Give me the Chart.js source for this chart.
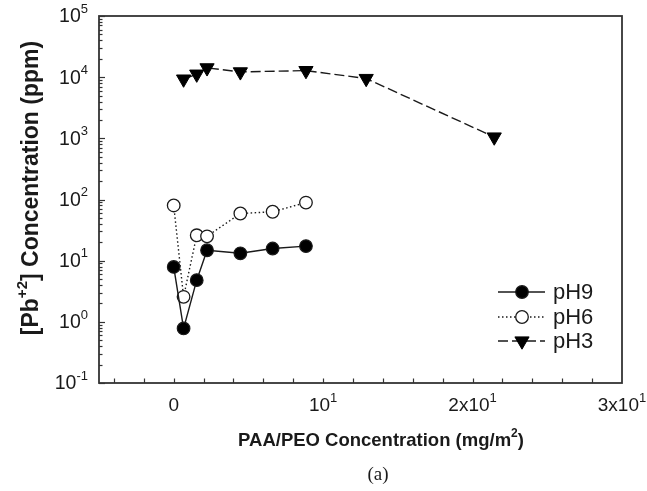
<!DOCTYPE html>
<html>
<head>
<meta charset="utf-8">
<script src="https://cdn.jsdelivr.net/npm/chart.js@4.4.1/dist/chart.umd.min.js"></script>
<style>
html,body{margin:0;padding:0;background:#fff;}
canvas{display:block;}
</style>
</head>
<body>
<canvas id="c" width="647" height="491"></canvas>
<script>
// ---- data ----
const xPH9 = [0, 0.66, 1.54, 2.23, 4.46, 6.62, 8.85];
const yPH9 = [7.9, 0.78, 4.8, 14.8, 13.2, 15.8, 17.3];
const xPH6 = [0, 0.66, 1.54, 2.23, 4.46, 6.62, 8.85];
const yPH6 = [80, 2.56, 26, 25, 59, 63, 89];
const xPH3 = [0.66, 1.54, 2.23, 4.46, 8.85, 12.88, 21.45];
const yPH3 = [9300, 11200, 14200, 12200, 12800, 9500, 1050];
const seriesNames = ['pH9', 'pH6', 'pH3'];

const xTickValues = [0, 10, 20, 30];
const xTickLabels = ['0', '10^{1}', '2x10^{1}', '3x10^{1}'];
const xMinorStep = 2;
const yTickValues = [0.1, 1, 10, 100, 1000, 10000, 100000];
const yTickLabels = ['10^{-1}', '10^{0}', '10^{1}', '10^{2}', '10^{3}', '10^{4}', '10^{5}'];
const xTitle = 'PAA/PEO Concentration (mg/m^{2})';
const yTitle = '[Pb^{+2}] Concentration (ppm)';
const caption = '(a)';

const INK = '#1a1a1a';
const FONT = '"Liberation Sans", Arial, sans-serif';

function toPts(xs, ys){ return xs.map((x,i)=>({x:x, y:ys[i]})); }

function parseRich(s){
  const segs=[]; const re=/\^\{([^}]*)\}/g; let last=0, m;
  while((m=re.exec(s))){ if(m.index>last) segs.push({t:s.slice(last,m.index),sup:false}); segs.push({t:m[1],sup:true}); last=re.lastIndex; }
  if(last<s.length) segs.push({t:s.slice(last),sup:false});
  return segs;
}
function supSize(size){ return Math.round(size*0.66); }
function richWidth(ctx, segs, size, weight){
  let w=0;
  segs.forEach(sg=>{ ctx.font = weight+' '+(sg.sup?supSize(size):size)+'px '+FONT; w+=ctx.measureText(sg.t).width; });
  return w;
}
function drawRich(ctx, s, x, y, align, size, weight){
  const segs=parseRich(s);
  const w=richWidth(ctx,segs,size,weight);
  let cx = align==='right'? x-w : align==='center'? x-w/2 : x;
  ctx.textBaseline='middle'; ctx.textAlign='left'; ctx.fillStyle=INK;
  segs.forEach(sg=>{
    const fs = sg.sup?supSize(size):size;
    ctx.font = weight+' '+fs+'px '+FONT;
    ctx.fillText(sg.t, cx, sg.sup? y-size*0.4 : y);
    cx += ctx.measureText(sg.t).width;
  });
}

const axesPlugin = {
  id:'axesPlugin',
  afterDraw(chart){
    const ctx=chart.ctx, a=chart.chartArea, xs=chart.scales.x, ys=chart.scales.y;
    ctx.save();
    // frame
    ctx.strokeStyle='#333'; ctx.lineWidth=1.8;
    ctx.strokeRect(a.left, a.top, a.right-a.left, a.bottom-a.top);
    // x ticks (inward)
    ctx.lineWidth=1.2; ctx.strokeStyle='#333';
    for(let v=xs.min+1; v<xs.max; v+=xMinorStep){
      const px=Math.round(xs.getPixelForValue(v))+0.5;
      ctx.beginPath(); ctx.moveTo(px,a.bottom); ctx.lineTo(px,a.bottom-4.5); ctx.stroke();
    }
    // y ticks (inward, major + minor)
    yTickValues.forEach((v,i)=>{
      const py=Math.round(ys.getPixelForValue(v))+0.5;
      ctx.beginPath(); ctx.moveTo(a.left,py); ctx.lineTo(a.left+6,py); ctx.stroke();
      if(i<yTickValues.length-1){
        for(let k=2;k<=9;k++){
          const pm=Math.round(ys.getPixelForValue(v*k))+0.5;
          ctx.beginPath(); ctx.moveTo(a.left,pm); ctx.lineTo(a.left+3.5,pm); ctx.stroke();
        }
      }
    });
    // tick labels
    xTickValues.forEach((v,i)=>{
      drawRich(ctx, xTickLabels[i], xs.getPixelForValue(v), a.bottom+23, 'center', 19, 'normal');
    });
    yTickValues.forEach((v,i)=>{
      drawRich(ctx, yTickLabels[i], a.left-11, ys.getPixelForValue(v)+1, 'right', 19.5, 'normal');
    });
    // axis titles
    drawRich(ctx, xTitle, 381, 441, 'center', 18.5, 'bold');
    ctx.save(); ctx.translate(32, 188); ctx.rotate(-Math.PI/2);
    drawRich(ctx, yTitle, 0, 0, 'center', 23, 'bold');
    ctx.restore();
    // caption
    ctx.font='19px "Liberation Serif", "Times New Roman", serif';
    ctx.fillStyle=INK; ctx.textAlign='center'; ctx.textBaseline='middle';
    ctx.fillText(caption, 378, 475);
    // legend
    const rows=[292,317,341];
    chart.data.datasets.forEach((ds,i)=>{
      const y=rows[i];
      ctx.strokeStyle=ds.borderColor; ctx.lineWidth=ds.borderWidth; ctx.setLineDash(ds.borderDash||[]);
      ctx.beginPath(); ctx.moveTo(498,y); ctx.lineTo(545,y); ctx.stroke();
      ctx.setLineDash([]);
      const r=ds.pointRadius, cx=522;
      ctx.fillStyle=ds.pointBackgroundColor; ctx.strokeStyle=ds.pointBorderColor; ctx.lineWidth=ds.pointBorderWidth;
      ctx.beginPath();
      if(ds.pointStyle==='triangle'){
        for(let k=0;k<3;k++){ const ang=Math.PI+k*2*Math.PI/3; const px=cx+Math.sin(ang)*r, py=y-Math.cos(ang)*r; k?ctx.lineTo(px,py):ctx.moveTo(px,py); }
        ctx.closePath();
      } else ctx.arc(cx,y,r,0,Math.PI*2);
      ctx.fill(); ctx.stroke();
      drawRich(ctx, ds.label, 553, y+1, 'left', 22, 'normal');
    });
    ctx.restore();
  }
};

new Chart(document.getElementById('c'), {
  type:'scatter',
  data:{ datasets:[
    { label:seriesNames[0], data:toPts(xPH9,yPH9), showLine:true, borderColor:INK, borderWidth:1.4,
      pointRadius:6.3, pointBackgroundColor:'#000', pointBorderColor:INK, pointBorderWidth:1.2, pointStyle:'circle' },
    { label:seriesNames[1], data:toPts(xPH6,yPH6), showLine:true, borderColor:INK, borderWidth:1.4, borderDash:[1.5,2.5],
      pointRadius:6.3, pointBackgroundColor:'#fff', pointBorderColor:INK, pointBorderWidth:1.3, pointStyle:'circle' },
    { label:seriesNames[2], data:toPts(xPH3,yPH3), showLine:true, borderColor:INK, borderWidth:1.4, borderDash:[10,4],
      pointRadius:8.2, pointBackgroundColor:'#000', pointBorderColor:'#000', pointBorderWidth:1, pointStyle:'triangle', pointRotation:180 }
  ]},
  options:{
    responsive:false, animation:false, devicePixelRatio:1,
    layout:{ padding:{ top:16, right:25, left:0, bottom:0 } },
    plugins:{ legend:{display:false}, tooltip:{enabled:false} },
    elements:{ line:{ tension:0 } },
    scales:{
      x:{ type:'linear', min:-5, max:30, grid:{display:false}, border:{display:false}, ticks:{display:false},
          afterFit(s){ s.height=108; } },
      y:{ type:'logarithmic', min:0.1, max:100000, grid:{display:false}, border:{display:false}, ticks:{display:false},
          afterFit(s){ s.width=99; } }
    }
  },
  plugins:[axesPlugin]
});
</script>
</body>
</html>
